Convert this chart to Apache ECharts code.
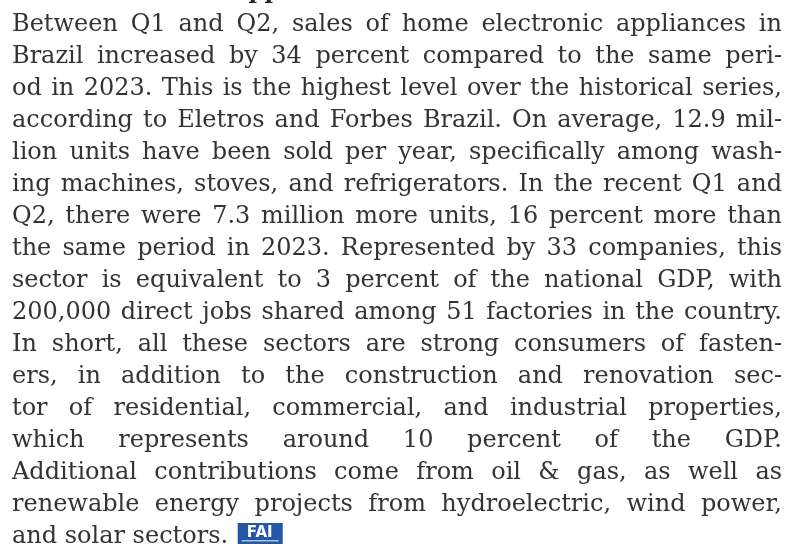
<!DOCTYPE html>
<html>
<head>
<meta charset="utf-8">
<script src="https://cdn.jsdelivr.net/npm/echarts@6/dist/echarts.min.js"></script>
<style>
html,body{margin:0;padding:0;background:#fff;}
#main{width:786px;height:547px;}
</style>
</head>
<body>
<div id="main"></div>
<script>
var headingText = 'Home electronic appliances';
var bodyLines = [
  'Between Q1 and Q2, sales of home electronic appliances in',
  'Brazil increased by 34 percent compared to the same peri-',
  'od in 2023. This is the highest level over the historical series,',
  'according to Eletros and Forbes Brazil. On average, 12.9 mil-',
  'lion units have been sold per year, specifically among wash-',
  'ing machines, stoves, and refrigerators. In the recent Q1 and',
  'Q2, there were 7.3 million more units, 16 percent more than',
  'the same period in 2023. Represented by 33 companies, this',
  'sector is equivalent to 3 percent of the national GDP, with',
  '200,000 direct jobs shared among 51 factories in the country.',
  'In short, all these sectors are strong consumers of fasten-',
  'ers, in addition to the construction and renovation sec-',
  'tor of residential, commercial, and industrial properties,',
  'which represents around 10 percent of the GDP.',
  'Additional contributions come from oil & gas, as well as',
  'renewable energy projects from hydroelectric, wind power,',
  'and solar sectors.'
];
var logoText = 'FAI';

var FONT_FAMILY = '"DejaVu Serif", serif';
var FS = 24;
var LEFT = 12, RIGHT = 782;
var FIRST_BASE = 32, LINE_H = 32;
var COLOR = '#333333';

var cv = document.createElement('canvas');
var ctx = cv.getContext('2d');
ctx.font = FS + 'px ' + FONT_FAMILY;
function w(s){ return ctx.measureText(s).width; }

var elements = [];
bodyLines.forEach(function(line, i){
  var base = FIRST_BASE + i * LINE_H;
  var words = line.split(' ');
  var last = (i === bodyLines.length - 1);
  var total = 0;
  words.forEach(function(wd){ total += w(wd); });
  var gap = last ? w(' ') : (RIGHT - LEFT - total) / (words.length - 1);
  var x = LEFT;
  words.forEach(function(wd){
    elements.push({
      type: 'text', x: x, y: base - FS * 0.3,
      style: { text: wd, fill: COLOR, font: FS + 'px ' + FONT_FAMILY, verticalAlign: 'middle', align: 'left' }
    });
    x += w(wd) + gap;
  });
  if (last) {
    var lx = x + 2;
    elements.push({ type: 'rect', shape: { x: lx, y: 523, width: 45, height: 21 }, style: { fill: '#2557a7' } });
    elements.push({ type: 'text', x: lx + 22, y: 533, style: { text: logoText, fill: '#fff', font: 'bold 15px "DejaVu Sans", sans-serif', verticalAlign: 'middle', align: 'center' } });
    elements.push({ type: 'rect', shape: { x: lx + 4, y: 540, width: 37, height: 1.5 }, style: { fill: '#a9bfe3' } });
  }
});

elements.push({
  type: 'text', x: 12, y: -1 - 24 * 0.3,
  style: { text: headingText, fill: '#222', font: 'bold 23px ' + FONT_FAMILY, verticalAlign: 'middle' }
});

var chart = echarts.init(document.getElementById('main'), null, { renderer: 'canvas' });
chart.setOption({ backgroundColor: '#fff', animation: false, graphic: { elements: elements } });
</script>
</body>
</html>
